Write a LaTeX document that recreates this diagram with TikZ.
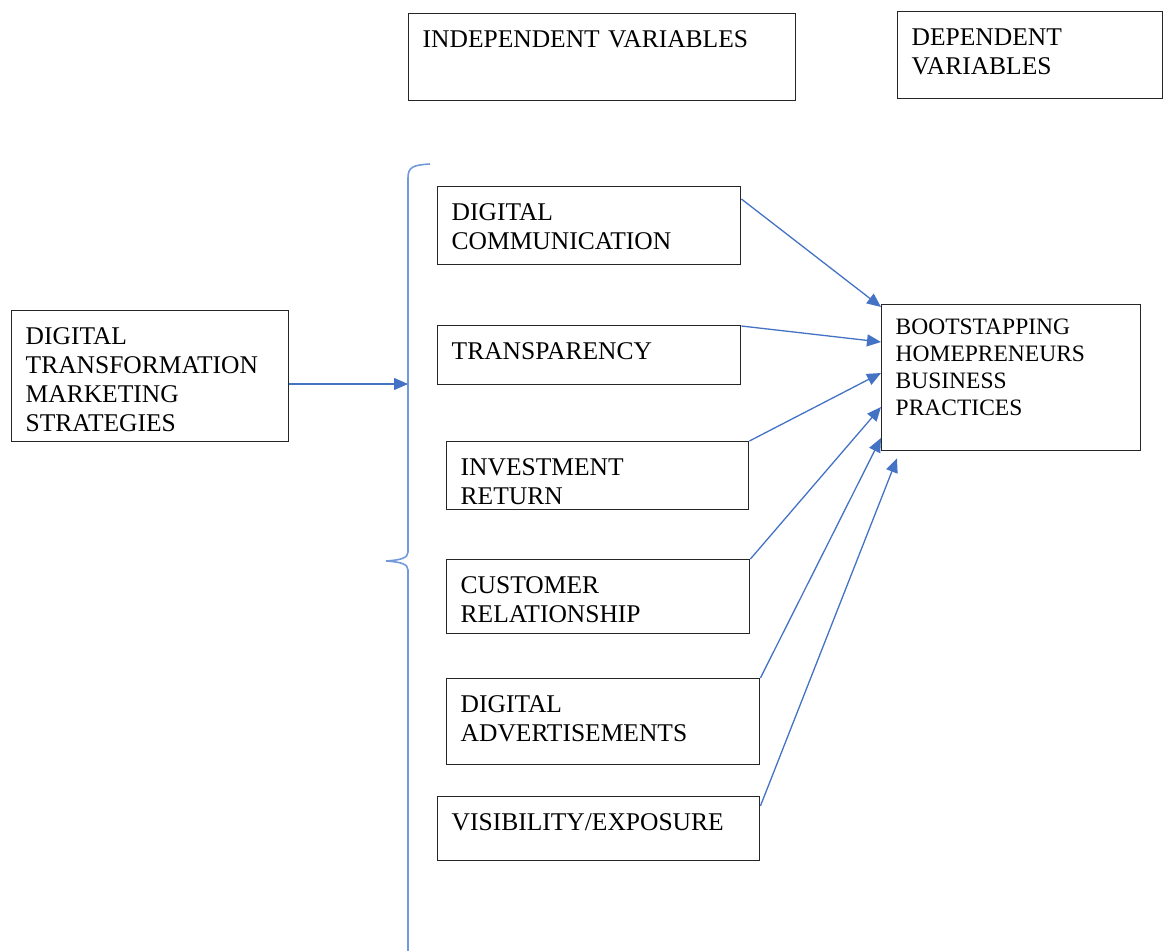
\documentclass[tikz,border=0pt]{standalone}
\usepackage{fontspec}
\setmainfont{Liberation Serif}
\usetikzlibrary{arrows.meta,calc}
\definecolor{linkblue}{HTML}{4472C4}
\definecolor{braceblue}{HTML}{7399DD}
\definecolor{boxline}{HTML}{262626}
\tikzset{>={Triangle[length=14pt,width=12pt]},
    varbox/.style={draw=boxline, line width=1.4pt, anchor=north west, align=left,
        inner xsep=14pt, inner ysep=13.4pt, text height=20pt,
        font=\fontsize{25.5}{29}\selectfont},
    link/.style={->, color=linkblue, line width=1.3pt}}

\begin{document}
\begin{tikzpicture}[x=1pt, y=-1pt]
    \useasboundingbox (0,0) rectangle (1163,951);
    \node[varbox, text width=359pt, text depth=40.2pt] (indep) at (408,13) {INDEPENDENT VARIABLES};
    \node[varbox, text width=237pt, text depth=40.2pt] (dep) at (897,11) {DEPENDENT\\VARIABLES};
    \node[varbox, text width=249pt, text depth=84.2pt] (dt) at (11,310) {DIGITAL\\TRANSFORMATION\\MARKETING\\STRATEGIES};
    \foreach \name/\x/\y/\w/\d/\txt in {dc/437/186/275/31.2/{DIGITAL\\COMMUNICATION},
            tr/437/325/275/12.2/{TRANSPARENCY},
            ir/446/441/274/21.2/{INVESTMENT\\RETURN},
            cr/446/559/275/27.2/{CUSTOMER\\RELATIONSHIP},
            da/446/678/285/39.2/{DIGITAL\\ADVERTISEMENTS},
            vis/437/796/294/17.2/{VISIBILITY/EXPOSURE}} {
        \node[varbox, text width=\w pt, text depth=\d pt] (\name) at (\x,\y) {\txt};
    }
    \node[varbox, text width=231pt, text height=16.4pt, text depth=102.8pt,
        font=\fontsize{23.5}{27}\selectfont] (boot) at (881,304) {BOOTSTAPPING\\HOMEPRENEURS\\BUSINESS\\PRACTICES};
    \draw[braceblue, line width=1.6pt] (430,164) .. controls (413,165) and (408,167) .. (408,178)
        -- (408,552) .. controls (408,558) and (401,560) .. (386,561)
        .. controls (401,562) and (408,564) .. (408,570) -- (408,951);
    \coordinate (brace) at (408,384);
    \draw[link] (dt.east |- brace) -- (brace);
    \foreach \src/\sy/\ey in {dc/13/3, tr/1/38, ir/0/69, cr/0/103, da/0/134}
        \draw[link] ([yshift=-\sy pt]\src.north east) -- ([yshift=-\ey pt]boot.north west);
    \draw[link] ([yshift=-10pt]vis.north east) -- ([xshift=16pt,yshift=-7pt]boot.south west);
\end{tikzpicture}
\end{document}
